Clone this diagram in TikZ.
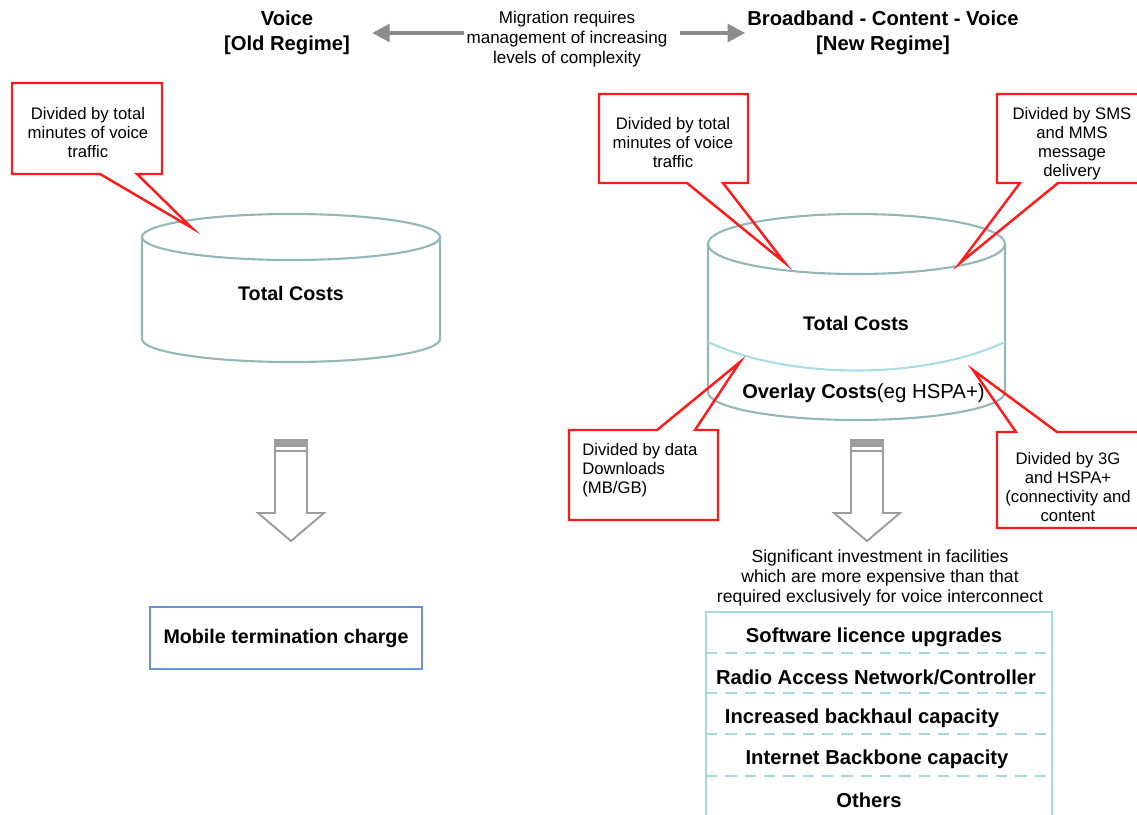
\documentclass[tikz,border=0pt]{standalone}
\usepackage{fontspec}
\setmainfont{Liberation Sans}
\usepackage{tikz}
\usetikzlibrary{arrows.meta, calc, positioning}

\definecolor{calloutred}{HTML}{FF1A1A}
\definecolor{cylcol}{HTML}{93B7B9}
\definecolor{wavecol}{HTML}{A9DDE6}
\definecolor{tablecol}{HTML}{A6D8E0}
\definecolor{mtcblue}{HTML}{6A94D4}
\definecolor{arrgray}{HTML}{8C8C8C}

\tikzset{
  callred/.style={draw=calloutred, line width=1.4pt, line join=miter},
  calltext/.style={font=\fontsize{9.5}{10.8}\selectfont, align=center, inner sep=0pt},
  title/.style={font=\bfseries\fontsize{11.5}{14}\selectfont, align=center, inner sep=0pt},
  boldlabel/.style={font=\bfseries\fontsize{11.2}{13}\selectfont, inner sep=0pt},
  plaintext/.style={font=\fontsize{9.7}{11.3}\selectfont, align=center, inner sep=0pt},
  cyl/.style={draw=cylcol, line width=1.2pt},
  wave/.style={draw=wavecol, line width=1.2pt},
  tbl/.style={draw=tablecol, line width=1.1pt},
  hdrarrow/.style={draw=arrgray, line width=2.2pt, -{Triangle[length=10pt,width=10pt]}},
  blockarrow/.style={draw=arrgray!85, line width=1.1pt, line join=miter}
}

\begin{document}
\begin{tikzpicture}[x=0.02cm, y=-0.02cm]
\useasboundingbox (0,0) rectangle (1137,815);

% header
\node[title] (oldT) at (287,33) {Voice\\{}[Old Regime]};
\node[title] (newT) at (883,33) {Broadband - Content - Voice\\{}[New Regime]};
\node[plaintext] (mig) at (567,39) {Migration requires\\management of increasing\\levels of complexity};
\draw[hdrarrow, shorten <=1pt, shorten >=12.5pt] (mig.west |- oldT.east) -- (oldT.east);
\draw[hdrarrow, shorten <=7pt, shorten >=1pt] (mig.east |- newT.west) -- (newT.west);

% old regime cylinder
\draw[cyl] (291,237) ellipse [x radius=149, y radius=23];
\draw[cyl] (142,237) -- (142,339) arc [start angle=180, end angle=0, x radius=149, y radius=23] -- (440,237);
\node[boldlabel] (totL) at (291,293) {Total Costs};

% new regime cylinder
\draw[cyl] (856.5,244) ellipse [x radius=148.5, y radius=30];
\draw[cyl] (708,244) -- (708,392) arc [start angle=180, end angle=0, x radius=148.5, y radius=28] -- (1005,244);
\draw[wave] (708,342) .. controls (790,380) and (923,380) .. (1005,342);
\node[boldlabel] (totR) at (856,323) {Total Costs};
\node[boldlabel, font=\fontsize{11.4}{13}\selectfont] (ovl) at (863.5,393) {\textbf{Overlay Costs}{\fontsize{11.6}{13}\selectfont(eg HSPA+)}};

% callouts
\coordinate (tA) at (192,228);
\coordinate (tB) at (785,263);
\coordinate (tC) at (960,263);
\coordinate (tD) at (740,362);
\coordinate (tE) at (973,370);
\draw[callred] (12,83) -- (162,83) -- (162,174) -- (137,174) -- (tA) -- (100,174) -- (12,174) -- cycle;
\draw[callred] (599,94) -- (748,94) -- (748,183) -- (723,183) -- (tB) -- (687,183) -- (599,183) -- cycle;
\draw[callred] (997,94) -- (1150,94) -- (1150,183) -- (1058,183) -- (tC) -- (1020,183) -- (997,183) -- cycle;
\draw[callred] (569,430) -- (657,430) -- (tD) -- (695,430) -- (718,430) -- (718,520) -- (569,520) -- cycle;
\draw[callred] (997,432) -- (1016,432) -- (tE) -- (1057,432) -- (1150,432) -- (1150,528) -- (997,528) -- cycle;
\node[calltext] (cA) at (88,133) {Divided by total\\minutes of voice\\traffic};
\node[calltext] (cB) at (673,143) {Divided by total\\minutes of voice\\traffic};
\node[calltext] (cC) at (1072,144) {Divided by SMS\\and MMS\\message\\delivery};
\node[calltext, align=left, anchor=west] (cD) at (582,470) {Divided by data\\Downloads\\(MB/GB)};
\node[calltext] (cE) at (1068,487) {Divided by 3G\\and HSPA+\\(connectivity and\\content};

% down arrows
\foreach \cx in {291,867}{
  \draw[blockarrow] (\cx-16,440) -- (\cx-16,513) -- (\cx-33,513) -- (\cx,541) -- (\cx+33,513) -- (\cx+16,513) -- (\cx+16,440) -- cycle;
  \fill[arrgray!85] (\cx-16,440) rectangle (\cx+16,447);
  \draw[arrgray!85, line width=0.8pt] (\cx-16,451) -- (\cx+16,451);
}

% old regime result
\node[boldlabel, draw=mtcblue, line width=1.1pt, minimum width=5.44cm, minimum height=1.24cm] (mtc) at (286,638) {Mobile termination charge};

% new regime result
\node[plaintext, font=\fontsize{10}{11.3}\selectfont] (inv) at (880,578) {Significant investment in facilities\\which are more expensive than that\\required exclusively for voice interconnect};
\draw[tbl] (706,830) -- (706,612) -- (1052,612) -- (1052,830);
\foreach \y in {653,693,734,776}
  \draw[tbl, dash pattern=on 6.5pt off 4.5pt] (706,\y) -- (1052,\y);
\node[boldlabel, font=\bfseries\fontsize{11.5}{13}\selectfont] (r1) at (874,637) {Software licence upgrades};
\node[boldlabel, font=\bfseries\fontsize{11.5}{13}\selectfont] (r2) at (876,677) {Radio Access Network/Controller};
\node[boldlabel, font=\bfseries\fontsize{11.5}{13}\selectfont] (r3) at (862,718) {Increased backhaul capacity};
\node[boldlabel, font=\bfseries\fontsize{11.5}{13}\selectfont] (r4) at (877,759) {Internet Backbone capacity};
\node[boldlabel, font=\bfseries\fontsize{11.5}{13}\selectfont] (r5) at (869,800) {Others};
\end{tikzpicture}
\end{document}
